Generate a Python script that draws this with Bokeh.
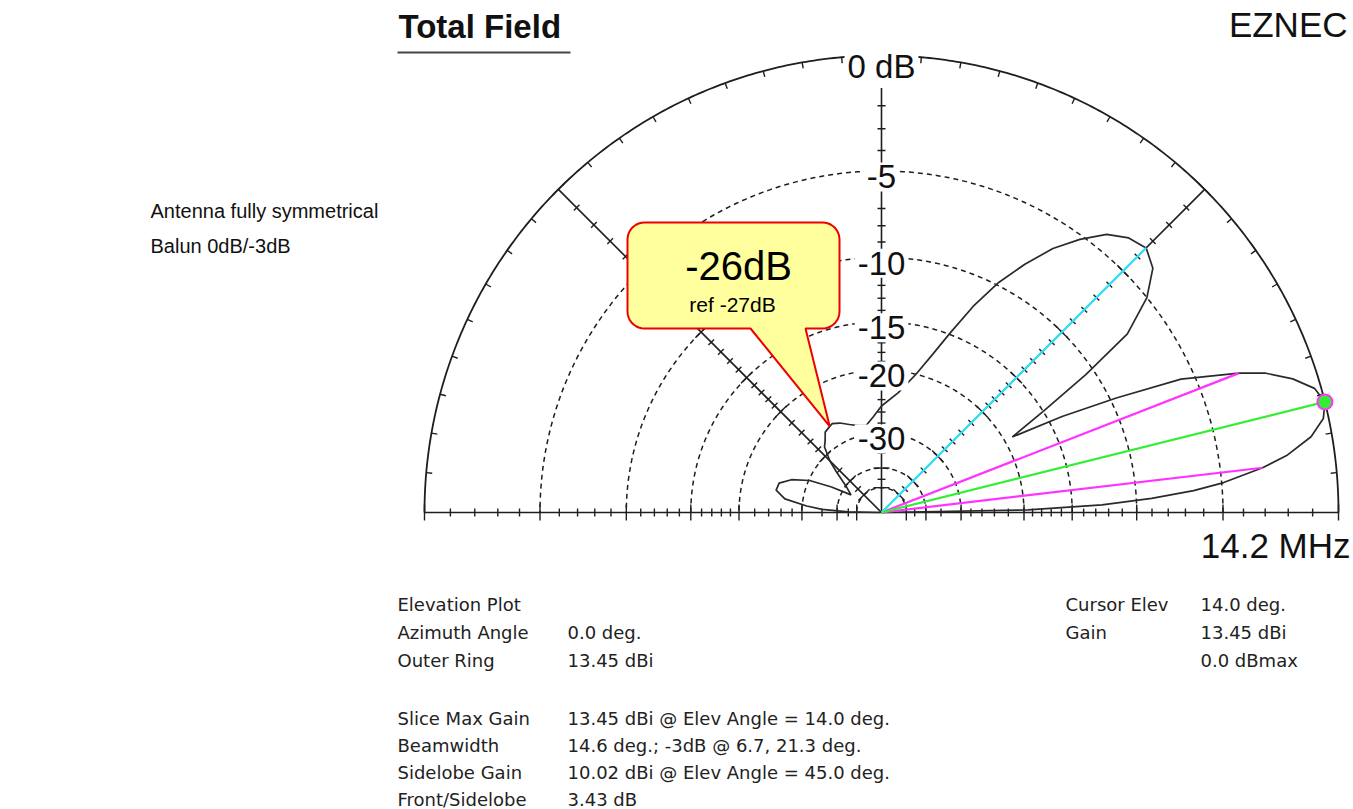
import numpy as np
from bokeh.plotting import figure
from bokeh.models import Range1d, Label
from bokeh.embed import file_html
from bokeh.resources import INLINE
from bokeh.core.properties import value

# ---------------------------------------------------------------------------
# Elevation pattern, total field, gain in dB relative to the slice maximum
# ---------------------------------------------------------------------------
elev_deg = [0, 1, 2, 3, 4, 5, 6.7, 8, 10, 12, 14, 16, 18, 20, 21.3, 24, 26, 28,
            30, 32, 34, 36, 39, 42, 45, 48, 51, 54, 57, 60, 63, 66, 69, 72, 76,
            82, 90, 95, 100, 105, 110, 115, 119, 121, 125, 128, 131, 135, 138,
            143, 150, 153, 156, 160, 164, 168, 172, 175, 177, 179, 180]
gain_db = [-99, -19.5, -12.5, -9.0, -6.5, -4.9, -3.0, -1.9, -0.8, -0.2, 0.0,
           -0.25, -0.95, -1.95, -3.0, -5.7, -9.6, -13.8, -19.0, -15.0, -10.6,
           -7.0, -5.0, -3.85, -3.43, -3.65, -4.2, -5.2, -6.4, -8.0, -9.8, -12.1,
           -14.8, -17.3, -20.0, -22.8, -25.0, -26.8, -28.2, -27.9, -27.2, -26.3,
           -25.8, -26.0, -26.4, -27.6, -28.5, -31.5, -34.7, -39.8, -44.0, -36.0,
           -30.2, -26.8, -25.0, -24.8, -26.5, -31.0, -35.0, -45.0, -99]

# scale rings / ticks (dB)
ring_db = [-5, -10, -15, -20, -30, -40, -50]
scale_label_db = [0, -5, -10, -15, -20, -30]
scale_labels = ["0 dB", "-5", "-10", "-15", "-20", "-30"]
major_tick_db = [0, -5, -10, -15, -20, -30, -40, -50]
minor_tick_db = [-1, -2, -3, -4, -6, -7, -8, -9, -11, -12, -13, -14, -16, -17,
                 -18, -19, -22, -24, -26, -28, -35, -45]

# summary values
freq_mhz = 14.2
azimuth_deg = 0.0
outer_ring_dbi = 13.45
max_gain_dbi = 13.45
max_elev_deg = 14.0
bw_lo_deg = 6.7
bw_hi_deg = 21.3
side_gain_dbi = 10.02
side_elev_deg = 45.0
cursor_elev_deg = 14.0
cursor_gain_dbi = 13.45

# annotation
callout_db = -26
callout_ref_db = -27
callout_elev_deg = 121


def rho(db):
    """ARRL log scale: radius factor 0.89 per 2 dB."""
    return 0.89 ** (-np.asarray(db, dtype=float) / 2.0)


def polar(elev, db):
    t = np.radians(np.asarray(elev, dtype=float))
    r = rho(db)
    return r * np.cos(t), r * np.sin(t)


# ---------------------------------------------------------------------------
# canvas geometry (pixels); data unit = outer ring radius
# ---------------------------------------------------------------------------
W, H = 1353, 809
CX, CY, R = 881.0, 512.0, 457.0
S = 1.0 / R


def X(px):
    return (px - CX) / R


def Y(py):
    return (CY - py) / R


INK = "#1e1e1e"

p = figure(width=W, height=H, output_backend="svg", toolbar_location=None,
           x_range=Range1d(X(0), X(W)), y_range=Range1d(Y(H), Y(0)),
           x_axis_type=None, y_axis_type=None, min_border=0)
p.grid.visible = False
p.outline_line_color = None
p.background_fill_color = "white"
p.border_fill_color = "white"

# rings
th = np.linspace(0, np.pi, 361)
p.line(np.cos(th), np.sin(th), line_color=INK, line_width=1.8)
p.multi_line([list(rho(d) * np.cos(th)) for d in ring_db],
             [list(rho(d) * np.sin(th)) for d in ring_db],
             line_color=INK, line_width=1.5, line_dash="5 4")

# radial axes
axis_angles = [45, 90, 135]
p.segment(x0=[-1.0] + [0.0] * 3, y0=[0.0] * 4,
          x1=[1.0] + [np.cos(np.radians(a)) for a in axis_angles],
          y1=[0.0] + [np.sin(np.radians(a)) for a in axis_angles],
          line_color=INK, line_width=1.6)

# ticks across the axes
tx0, ty0, tx1, ty1 = [], [], [], []
for a in [0, 45, 90, 135, 180]:
    t = np.radians(a)
    ux, uy = np.cos(t), np.sin(t)
    nx, ny = -uy, ux
    for d_list, h in ((major_tick_db, 8), (minor_tick_db, 4)):
        for d in d_list:
            r = float(rho(d))
            cx, cy = r * ux, r * uy
            tx0.append(cx - h * S * nx)
            ty0.append(cy - h * S * ny)
            tx1.append(cx + h * S * nx)
            ty1.append(cy + h * S * ny)
p.segment(tx0, ty0, tx1, ty1, line_color=INK, line_width=1.4)

# 5-degree ticks on the outer ring
ring_ticks = [a for a in range(5, 180, 5) if a % 45 != 0]
rt = np.radians(ring_ticks)
p.segment(np.cos(rt), np.sin(rt), (1 - 6 * S) * np.cos(rt), (1 - 6 * S) * np.sin(rt),
          line_color=INK, line_width=1.4)

# pattern
pxs, pys = polar(elev_deg, gain_db)
p.line(pxs, pys, line_color="#2a2a2a", line_width=1.7)

# -3 dB beamwidth, sidelobe and maximum cursors
bx, by = polar([bw_lo_deg, bw_hi_deg], [-3.0, -3.0])
p.segment([0, 0], [0, 0], bx, by, line_color="#ff33ff", line_width=2.2)
sx, sy = polar([side_elev_deg], [side_gain_dbi - max_gain_dbi])
p.segment([0], [0], sx, sy, line_color="#33e6ff", line_width=2.2)
mx, my = polar([max_elev_deg], [0.0])
p.segment([0], [0], mx, my, line_color="#33ee33", line_width=2.2)
p.scatter(mx, my, size=15, fill_color="#33ee33", line_color="#ff33ff", line_width=2)

# scale labels (white background hides rings behind them)
for d, txt in zip(scale_label_db, scale_labels):
    ring_py = CY - float(rho(d)) * R
    off = 11 if d == 0 else 6
    p.add_layout(Label(x=0, y=Y(ring_py + off), text=txt, text_align="center",
                       text_baseline="middle", text_font="Liberation Sans",
                       text_font_size="33px", text_color="#111111",
                       background_fill_color="white", padding=3))

# headings
p.text(x=[X(398)], y=[Y(26)], text=["Total Field"], text_font=value("Liberation Sans"),
       text_font_size="33px", text_font_style="bold", text_baseline="middle",
       text_align="left", text_color="#111111")
p.segment([X(397)], [Y(52)], [X(570)], [Y(52)], line_color="#444444", line_width=2)
p.text(x=[X(1347)], y=[Y(24)], text=["EZNEC"], text_font=value("Liberation Sans"),
       text_font_size="35px", text_baseline="middle", text_align="right", text_color="#111111")
p.text(x=[X(1350)], y=[Y(545)], text=[f"{freq_mhz:.1f} MHz"], text_font=value("Liberation Sans"),
       text_font_size="35px", text_baseline="middle", text_align="right", text_color="#111111")

# side note
p.text(x=[X(150), X(150)], y=[Y(210), Y(245)],
       text=["Antenna fully symmetrical", "Balun 0dB/-3dB"],
       text_font=value("Liberation Sans"), text_font_size="20px",
       text_baseline="middle", text_align="left", text_color="#111111")

# callout bubble pointing at the pattern
L, T, Rr, B, rad = 627.0, 222.0, 839.0, 328.0, 17.0
base_l, base_r = 750.0, 805.0
tip_x, tip_y = polar([callout_elev_deg], [callout_db])
bxs, bys = [], []


def arc(cx, cy, a0, a1):
    for a in np.linspace(np.radians(a0), np.radians(a1), 10):
        bxs.append(X(cx + rad * np.cos(a)))
        bys.append(Y(cy - rad * np.sin(a)))


arc(L + rad, T + rad, 180, 90)
arc(Rr - rad, T + rad, 90, 0)
arc(Rr - rad, B - rad, 0, -90)
bxs += [X(base_r), float(tip_x[0]), X(base_l)]
bys += [Y(B), float(tip_y[0]), Y(B)]
arc(L + rad, B - rad, -90, -180)
p.patch(bxs, bys, fill_color="#ffff9e", line_color="#ee0000", line_width=2)
p.text(x=[X(738)], y=[Y(265)], text=[f"{callout_db}dB"], text_font=value("Liberation Sans"),
       text_font_size="40px", text_baseline="middle", text_align="center", text_color="#000000")
p.text(x=[X(732)], y=[Y(304)], text=[f"ref {callout_ref_db}dB"], text_font=value("Liberation Sans"),
       text_font_size="21px", text_baseline="middle", text_align="center", text_color="#000000")

# data summary
left_names = ["Elevation Plot", "Azimuth Angle", "Outer Ring",
              "Slice Max Gain", "Beamwidth", "Sidelobe Gain", "Front/Sidelobe"]
left_vals = ["", f"{azimuth_deg:.1f} deg.", f"{outer_ring_dbi:.2f} dBi",
             f"{max_gain_dbi:.2f} dBi @ Elev Angle = {max_elev_deg:.1f} deg.",
             f"{bw_hi_deg - bw_lo_deg:.1f} deg.; -3dB @ {bw_lo_deg:.1f}, {bw_hi_deg:.1f} deg.",
             f"{side_gain_dbi:.2f} dBi @ Elev Angle = {side_elev_deg:.1f} deg.",
             f"{max_gain_dbi - side_gain_dbi:.2f} dB"]
rows_y = [604, 632, 660, 718, 745, 772, 799]
right_names = ["Cursor Elev", "Gain", ""]
right_vals = [f"{cursor_elev_deg:.1f} deg.", f"{cursor_gain_dbi:.2f} dBi",
              f"{cursor_gain_dbi - max_gain_dbi:.1f} dBmax"]
rrows_y = [604, 632, 660]

small = dict(text_font=value("DejaVu Sans"), text_font_size="18px",
             text_baseline="middle", text_align="left", text_color="#222222")
p.text(x=[X(397)] * len(left_names), y=[Y(v) for v in rows_y], text=left_names, **small)
p.text(x=[X(567)] * len(left_vals), y=[Y(v) for v in rows_y], text=left_vals, **small)
p.text(x=[X(1065)] * 3, y=[Y(v) for v in rrows_y], text=right_names, **small)
p.text(x=[X(1200)] * 3, y=[Y(v) for v in rrows_y], text=right_vals, **small)

open("out.html", "w").write(file_html(p, INLINE))
